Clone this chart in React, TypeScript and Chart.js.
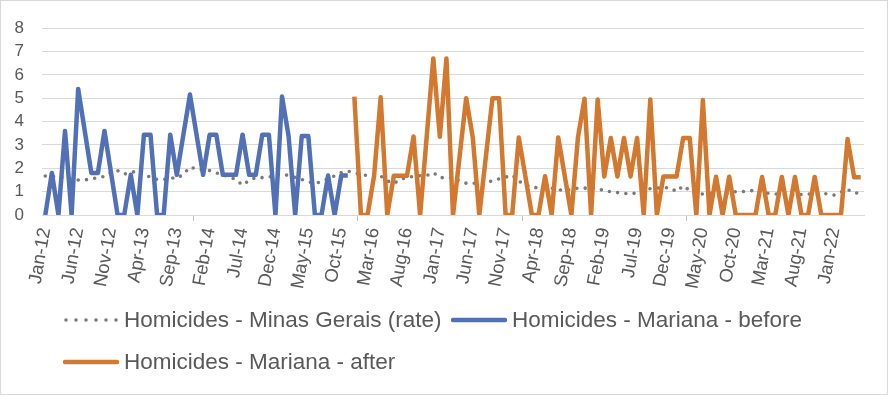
import React, { useEffect, useRef } from "react";
import { Chart, registerables } from "chart.js";

Chart.register(...registerables);

// ---------- data ----------
const MONTHS = ["Jan", "Feb", "Mar", "Apr", "May", "Jun", "Jul", "Aug", "Sep", "Oct", "Nov", "Dec"];
const YEARS = ["12", "13", "14", "15", "16", "17", "18", "19", "20", "21", "22"];
const categories: string[] = YEARS.flatMap((y) => MONTHS.map((m) => `${m}-${y}`)).slice(0, 125);

const seriesNames = [
  "Homicides - Minas Gerais (rate)",
  "Homicides - Mariana - before",
  "Homicides - Mariana - after",
];

// Minas Gerais rate, Jan-12 .. May-22
const mgRate: number[] = [
  1.67, 1.65, 1.62, 1.6, 1.55, 1.5, 1.5, 1.55, 1.6, 1.65, 1.82, 1.9,
  1.75, 1.82, 1.88, 1.72, 1.62, 1.52, 1.52, 1.6, 1.56, 1.75, 2.05, 1.97,
  1.92, 1.9, 1.8, 1.72, 1.62, 1.52, 1.28, 1.48, 1.6, 1.6, 1.62, 1.7,
  1.73, 1.7, 1.6, 1.52, 1.42, 1.35, 1.43, 1.55, 1.68, 1.82, 1.88, 1.8,
  1.74, 1.68, 1.67, 1.67, 1.46, 1.35, 1.52, 1.62, 1.65, 1.68, 1.69, 1.82,
  1.6, 1.6, 1.6, 1.45, 1.36, 1.36, 1.37, 1.39, 1.46, 1.55, 1.62, 1.71,
  1.45, 1.3, 1.2, 1.15, 1.15, 1.15, 1.08, 1.05, 1.1, 1.15, 1.15, 1.15,
  1.15, 1.02, 1.0, 0.96, 0.93, 0.9, 0.95, 1.05, 1.13, 1.15, 1.17, 1.17,
  1.0, 1.25, 1.05, 0.9, 0.9, 0.92, 0.95, 0.92, 0.92, 1.0, 1.0, 1.03,
  1.06, 1.0, 0.92, 0.9, 0.88, 0.85, 0.87, 0.88, 0.89, 0.92, 0.94, 0.9,
  0.85, 0.98, 1.1, 0.94, 0.95,
];

// Mariana before, Jan-12 .. Nov-15
const marianaBefore: number[] = [
  0, 1.8, 0, 3.6, 0, 5.4, 3.6, 1.8, 1.8, 3.6, 1.8, 0,
  0, 1.72, 0, 3.44, 3.44, 0, 0, 3.44, 1.72, 3.44, 5.16, 3.44,
  1.72, 3.44, 3.44, 1.72, 1.72, 1.72, 3.44, 1.72, 1.72, 3.44, 3.44, 0,
  5.07, 3.38, 0, 3.38, 3.38, 0, 0, 1.69, 0, 1.69, 1.69,
];

// Mariana after, Dec-15 .. May-22
const marianaAfter: number[] = [
  5.07, 0, 0, 1.68, 5.04, 0, 1.68, 1.68, 1.68, 3.36, 0, 3.35, 6.7,
  3.35, 6.7, 0, 2.5, 5.0, 3.34, 0, 2.5, 5.0, 5.0, 0, 0,
  3.32, 1.66, 0, 0, 1.66, 0, 3.32, 1.66, 0, 3.32, 4.98, 0,
  4.95, 1.65, 3.3, 1.65, 3.3, 1.65, 3.3, 0, 4.95, 0, 1.65, 1.65,
  1.65, 3.3, 3.3, 0, 4.92, 0, 1.64, 0, 1.64, 0, 0, 0,
  0, 1.63, 0, 0, 1.63, 0, 1.63, 0, 0, 1.63, 0, 0,
  0, 0, 3.25, 1.62, 1.62,
];

const yTicks = [0, 1, 2, 3, 4, 5, 6, 7, 8];

// ---------- styles ----------
const FONT = "'Liberation Sans', Arial, sans-serif";
const TEXT = "#595959";
const GRID = "#D9D9D9";
const GREY = "#7A7A7A";
const BLUE = "#5270B6";
const ORANGE = "#D3782F";

const beforeFull: (number | null)[] = categories.map((_, i) => (i < marianaBefore.length ? marianaBefore[i] : null));
const afterFull: (number | null)[] = categories.map((_, i) =>
  i >= categories.length - marianaAfter.length ? marianaAfter[i - (categories.length - marianaAfter.length)] : null
);

function LegendItem(props: { kind: "dot" | "line"; color: string; label: string; left: number; cy: number }) {
  const { kind, color, label, left, cy } = props;
  return (
    <div
      style={{
        position: "absolute",
        left,
        top: cy - 15,
        height: 30,
        display: "flex",
        alignItems: "center",
        whiteSpace: "nowrap",
        fontFamily: FONT,
        fontSize: 22.5,
        color: TEXT,
      }}
    >
      <svg width={56} height={10} style={{ marginRight: 5 }}>
        {kind === "dot" ? (
          <line x1={3} y1={5} x2={54} y2={5} stroke={color} strokeWidth={3.6} strokeLinecap="round" strokeDasharray="0 10" />
        ) : (
          <line x1={2} y1={5} x2={54} y2={5} stroke={color} strokeWidth={4.5} strokeLinecap="round" />
        )}
      </svg>
      <span>{label}</span>
    </div>
  );
}

export default function App() {
  const ref = useRef<HTMLCanvasElement | null>(null);

  useEffect(() => {
    if (!ref.current) return;
    const chart = new Chart(ref.current, {
      type: "line",
      data: {
        labels: categories,
        datasets: [
          {
            label: seriesNames[0],
            data: mgRate,
            borderColor: GREY,
            borderWidth: 3.6,
            borderDash: [0, 8.3],
            borderCapStyle: "round",
            pointRadius: 0,
            tension: 0,
            fill: false,
            order: 3,
          },
          {
            label: seriesNames[1],
            data: beforeFull,
            borderColor: BLUE,
            borderWidth: 4.5,
            borderJoinStyle: "round",
            pointRadius: 0,
            tension: 0,
            fill: false,
            spanGaps: false,
            order: 2,
          },
          {
            label: seriesNames[2],
            data: afterFull,
            borderColor: ORANGE,
            borderWidth: 4.5,
            borderJoinStyle: "round",
            pointRadius: 0,
            tension: 0,
            fill: false,
            spanGaps: false,
            order: 1,
          },
        ],
      },
      options: {
        animation: false,
        responsive: false,
        maintainAspectRatio: false,
        events: [],
        layout: { padding: { top: 23, right: 24, left: 0, bottom: 0 } },
        plugins: { legend: { display: false }, tooltip: { enabled: false } },
        scales: {
          x: {
            type: "category",
            offset: true,
            grid: {
              offset: true,
              drawOnChartArea: false,
              drawTicks: true,
              tickLength: 6,
              color: (ctx: any) => (ctx.index % 5 === 0 ? "#BFBFBF" : "rgba(0,0,0,0)"),
            },
            border: { display: true, color: GRID, width: 1 },
            ticks: {
              autoSkip: false,
              maxRotation: 80,
              minRotation: 80,
              padding: 5,
              color: TEXT,
              font: { family: FONT, size: 18.5 },
              callback: (_v: any, i: number) => (i % 5 === 0 ? categories[i] : null),
            },
            afterFit: (s: any) => {
              s.height = 180;
            },
          },
          y: {
            min: yTicks[0],
            max: yTicks[yTicks.length - 1],
            afterBuildTicks: (s: any) => {
              s.ticks = yTicks.map((v) => ({ value: v }));
            },
            ticks: { autoSkip: false, stepSize: 1, padding: 18, color: TEXT, font: { family: FONT, size: 17 } },
            grid: { color: GRID, drawTicks: false, lineWidth: 1 },
            border: { display: false },
            afterFit: (s: any) => {
              s.width = 42;
            },
          },
        },
      },
    });
    return () => chart.destroy();
  }, []);

  return (
    <div style={{ position: "fixed", left: 0, top: 0, width: 888, height: 395, background: "#fff" }}>
      <canvas ref={ref} width={888} height={395} style={{ position: "absolute", left: 0, top: 0 }} />
      <LegendItem kind="dot" color={GREY} label={seriesNames[0]} left={63} cy={320} />
      <LegendItem kind="line" color={BLUE} label={seriesNames[1]} left={451} cy={320} />
      <LegendItem kind="line" color={ORANGE} label={seriesNames[2]} left={63} cy={362} />
      <div
        style={{
          position: "absolute",
          left: 0,
          top: 0,
          width: 888,
          height: 395,
          boxSizing: "border-box",
          border: "1px solid #D9D9D9",
          pointerEvents: "none",
        }}
      />
    </div>
  );
}
